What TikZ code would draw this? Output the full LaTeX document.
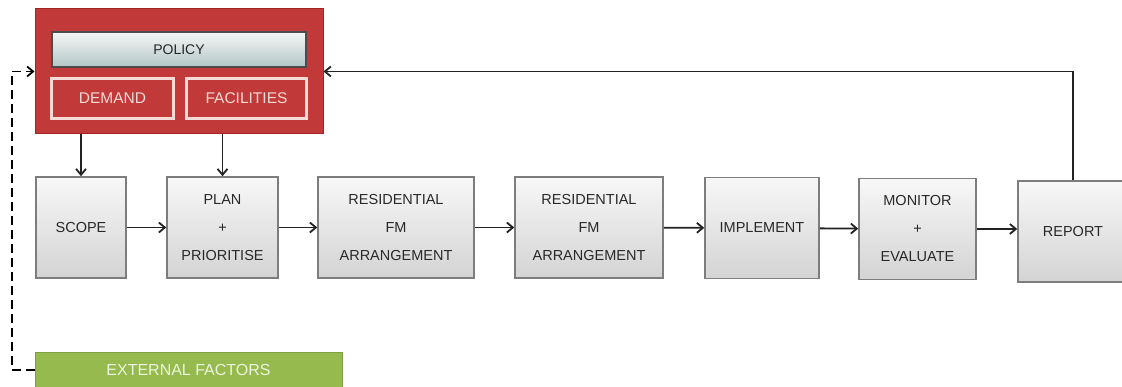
\documentclass[tikz,border=0pt]{standalone}
\usepackage{fontspec}
\setmainfont{Liberation Sans}
\usetikzlibrary{arrows.meta}
\definecolor{boxred}{RGB}{193,58,57}
\definecolor{boxredline}{RGB}{160,38,38}
\definecolor{pinktext}{RGB}{246,218,214}
\definecolor{extgreen}{RGB}{150,186,78}
\definecolor{greentext}{RGB}{236,244,222}
\definecolor{steptext}{RGB}{40,40,40}
\definecolor{stepline}{RGB}{125,125,125}
\definecolor{linkgray}{RGB}{35,35,35}
\definecolor{policytop}{RGB}{246,246,246}
\definecolor{policybot}{RGB}{178,198,198}

\begin{document}
\begin{tikzpicture}[x=1pt,y=-1pt,
  stepbox/.style={draw=stepline, line width=1.5pt, top color=gray!6, bottom color=gray!34,
    minimum width=#1, minimum height=101pt, inner sep=0pt, align=center,
    text=steptext, font=\fontsize{14.5}{28}\selectfont},
  redpanel/.style={draw=boxredline, line width=1pt, fill=boxred, minimum width=288pt,
    minimum height=125pt, inner sep=0pt},
  policybar/.style={draw=gray!60!black, line width=1.2pt, top color=policytop, bottom color=policybot,
    minimum width=254pt, minimum height=35pt, inner sep=0pt, text=black!85,
    font=\fontsize{14}{16}\selectfont},
  redtab/.style={draw=pinktext, line width=2.2pt, fill=boxred, minimum width=#1,
    minimum height=40pt, inner sep=0pt, text=pinktext, font=\fontsize{15.5}{18}\selectfont},
  extbox/.style={draw=extgreen!85!black, line width=0.8pt, fill=extgreen, minimum width=307pt,
    minimum height=36pt, inner sep=0pt, text=greentext, font=\fontsize{16}{18}\selectfont},
  arr/.style={-{Straight Barb[length=6pt,width=10pt]}, line width=1.8pt, draw=linkgray},
  dasharr/.style={arr, draw=black, dash pattern=on 9pt off 5pt}
]
\useasboundingbox (0,0) rectangle (1122,387);
\clip (0,0) rectangle (1122,387);

% policy panel
\node[redpanel] (red) at (179,71.5) {};
\node[policybar] (policy) at (179,49.5) {POLICY};
\node[redtab=122pt] (demand) at (112.5,98.5) {DEMAND};
\node[redtab=120pt] (facilities) at (246.5,98.5) {FACILITIES};

% process steps
\node[stepbox=90pt]  (scope)  at (81,227.5)   {SCOPE};
\node[stepbox=111pt] (plan)   at (222.5,227.5) {PLAN\\+\\PRIORITISE};
\node[stepbox=156pt] (res1)   at (396,227.5)   {RESIDENTIAL\\FM\\ARRANGEMENT};
\node[stepbox=148pt] (res2)   at (589,227.5)   {RESIDENTIAL\\FM\\ARRANGEMENT};
\node[stepbox=114pt] (impl)   at (762,228)     {IMPLEMENT};
\node[stepbox=117pt] (mon)    at (917.5,229)   {MONITOR\\+\\EVALUATE};
\node[stepbox=110pt] (report) at (1073,231.5)  {REPORT};

% external factors
\node[extbox] (ext) at (188.5,370) {EXTERNAL FACTORS};

% connectors
\draw[arr] (red.south -| scope.north) -- (scope.north);
\draw[arr] (red.south -| plan.north) -- (plan.north);
\draw[arr] (scope) -- (plan);
\draw[arr] (plan) -- (res1);
\draw[arr] (res1) -- (res2);
\draw[arr] (res2) -- (impl);
\draw[arr] (impl) -- (mon);
\draw[arr] (mon) -- (mon -| report.west);
\draw[arr] (report.north) |- (red.east);
\draw[dasharr] (ext.west) -- ++(-23,0) |- (red.west);
\end{tikzpicture}
\end{document}
